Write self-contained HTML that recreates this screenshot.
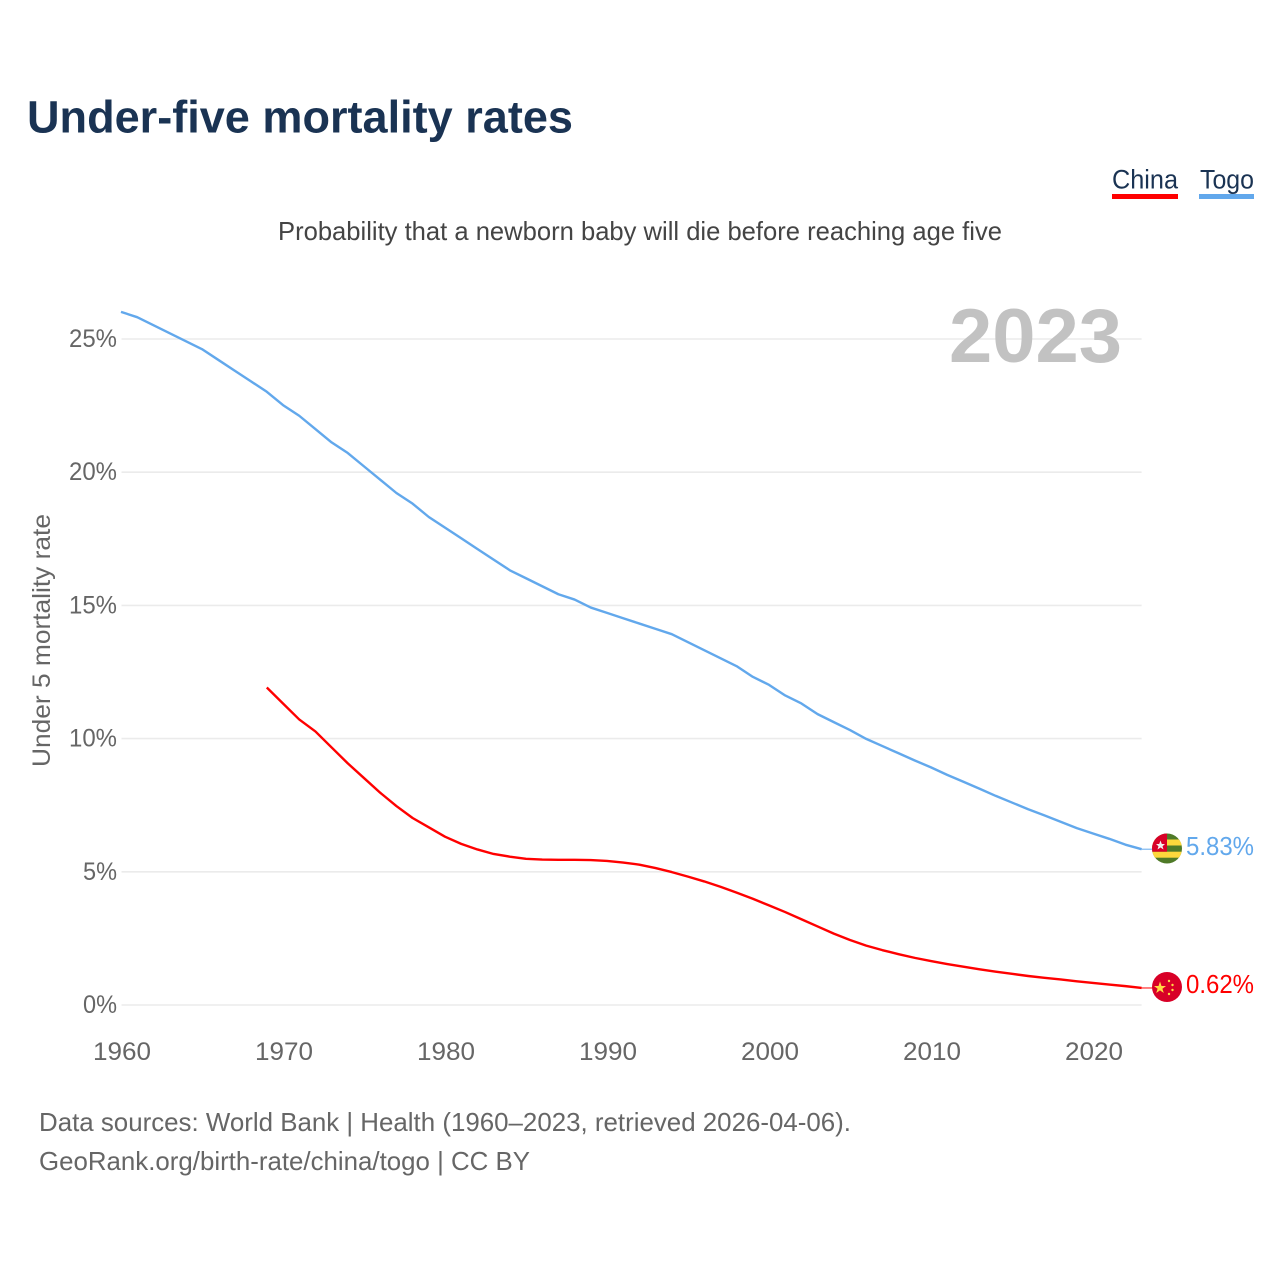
<!DOCTYPE html>
<html lang="en">
<head>
<meta charset="utf-8">
<title>Under-five mortality rates</title>
<style>
html,body{margin:0;padding:0;background:#fff;width:1280px;height:1280px;overflow:hidden}
svg{display:block;font-family:"Liberation Sans",sans-serif}
</style>
</head>
<body>
<svg id="chart" width="1280" height="1280" viewBox="0 0 1280 1280" xmlns="http://www.w3.org/2000/svg">
  <rect width="1280" height="1280" fill="#fff"/>
  <text x="27" y="132.5" font-size="45" font-weight="700" fill="#1a3353" textLength="546" lengthAdjust="spacingAndGlyphs">Under-five mortality rates</text>
  <g>
    <g>
      <text x="1112" y="188.5" font-size="27" fill="#1a3353" textLength="66" lengthAdjust="spacingAndGlyphs">China</text>
      <rect x="1112" y="194" width="66" height="5" fill="#ff0000"/>
    </g>
    <g>
      <text x="1200" y="188.5" font-size="27" fill="#1a3353" textLength="54" lengthAdjust="spacingAndGlyphs">Togo</text>
      <rect x="1199" y="194" width="55" height="5" fill="#62a8ec"/>
    </g>
  </g>
  <text x="278" y="240" font-size="26" fill="#444" textLength="724" lengthAdjust="spacingAndGlyphs">Probability that a newborn baby will die before reaching age five</text>
  <g id="grid"></g>
  <g id="yticks"></g>
  <g id="xticks"></g>
  <text transform="translate(50,767) rotate(-90)" font-size="25" fill="#666" textLength="253" lengthAdjust="spacingAndGlyphs">Under 5 mortality rate</text>
  <text x="949" y="362" font-size="76" font-weight="700" fill="#c2c2c2" textLength="173" lengthAdjust="spacingAndGlyphs">2023</text>
  <g id="series"></g>

  <defs>
    <clipPath id="flag-clip-togo"><circle cx="1167" cy="848.5" r="15"/></clipPath>
    <clipPath id="flag-clip-china"><circle cx="1167" cy="987" r="15"/></clipPath>
  </defs>
  <g id="flag-togo" clip-path="url(#flag-clip-togo)">
    <rect x="1152" y="833" width="30" height="31" fill="#4f7a28"/>
    <rect x="1152" y="839.5" width="30" height="6" fill="#fdd83c"/>
    <rect x="1152" y="851.7" width="30" height="6" fill="#fdd83c"/>
    <rect x="1152" y="833" width="15" height="18.7" fill="#d80027"/>
    <polygon points="1160.5,840.5 1161.8,844 1165,844 1162.5,846.2 1163.5,849.5 1160.5,847.5 1157.5,849.5 1158.5,846.2 1156,844 1159.2,844" fill="#f0f0f0"/>
  </g>
  <g id="flag-china" clip-path="url(#flag-clip-china)">
    <rect x="1152" y="972" width="30" height="30" fill="#d80027"/>
    <polygon points="1160,981.5 1161.5,986 1166,986 1162.4,988.7 1163.8,993 1160,990.4 1156.2,993 1157.6,988.7 1154,986 1158.5,986" fill="#ffda44"/>
    <circle cx="1169" cy="981" r="1.2" fill="#ffda44"/>
    <circle cx="1172.5" cy="985" r="1.2" fill="#ffda44"/>
    <circle cx="1172.5" cy="990" r="1.2" fill="#ffda44"/>
    <circle cx="1169" cy="994" r="1.2" fill="#ffda44"/>
  </g>
  <text x="1186" y="855" font-size="26" fill="#62a8ec" textLength="68" lengthAdjust="spacingAndGlyphs">5.83%</text>
  <text x="1186" y="993" font-size="26" fill="#ff0000" textLength="68" lengthAdjust="spacingAndGlyphs">0.62%</text>

  <text x="39" y="1131" font-size="26" fill="#666" textLength="812" lengthAdjust="spacingAndGlyphs">Data sources: World Bank | Health (1960–2023, retrieved 2026-04-06).</text>
  <text x="39" y="1170" font-size="26" fill="#666" textLength="491" lengthAdjust="spacingAndGlyphs">GeoRank.org/birth-rate/china/togo | CC BY</text>
</svg>
<script>
const yTickValues = [0, 5, 10, 15, 20, 25];
const xTickValues = [1960, 1970, 1980, 1990, 2000, 2010, 2020];
const togoStartYear = 1960;
const togoValues = [26.0,25.8,25.5,25.2,24.9,24.6,24.2,23.8,23.4,23.0,22.5,22.1,21.6,21.1,20.7,20.2,19.7,19.2,18.8,18.3,17.9,17.5,17.1,16.7,16.3,16.0,15.7,15.4,15.2,14.9,14.7,14.5,14.3,14.1,13.9,13.6,13.3,13.0,12.7,12.3,12.0,11.6,11.3,10.9,10.6,10.3,9.97,9.7,9.43,9.16,8.9,8.62,8.36,8.1,7.83,7.58,7.33,7.1,6.86,6.62,6.42,6.22,6.0,5.83];
const chinaStartYear = 1969;
const chinaValues = [11.9,11.3,10.7,10.25,9.65,9.05,8.5,7.95,7.45,7.0,6.65,6.3,6.03,5.82,5.65,5.55,5.47,5.44,5.43,5.43,5.42,5.39,5.33,5.25,5.12,4.97,4.8,4.62,4.42,4.2,3.97,3.72,3.47,3.2,2.93,2.66,2.42,2.21,2.04,1.89,1.75,1.63,1.52,1.42,1.32,1.23,1.15,1.07,1.0,0.94,0.87,0.81,0.75,0.69,0.62];

const NS = 'http://www.w3.org/2000/svg';
const xScale = year => 121 + (year - 1960) * 16.2;
const yScale = value => 1005 - value * 26.64;
const plotRight = xScale(2023);

function make(tag, attrs, parent) {
  const el = document.createElementNS(NS, tag);
  for (const key in attrs) el.setAttribute(key, attrs[key]);
  parent.appendChild(el);
  return el;
}

const gridGroup = document.getElementById('grid');
const yTickGroup = document.getElementById('yticks');
const xTickGroup = document.getElementById('xticks');
const seriesGroup = document.getElementById('series');

yTickValues.forEach(value => {
  const line = make('line', {x1: 121.5, x2: plotRight, y1: yScale(value), y2: yScale(value), stroke: '#ebebeb', 'stroke-width': 1.6}, gridGroup);
  
  
  const label = make('text', {x: 117, y: yScale(value) + 8, 'text-anchor': 'end', 'font-size': 25, fill: '#666', textLength: value >= 10 ? 48 : 34, lengthAdjust: 'spacingAndGlyphs'}, yTickGroup);
  label.textContent = value + '%';
  
  
});

xTickValues.forEach(year => {
  const label = make('text', {x: xScale(year) + 1, y: 1060, 'text-anchor': 'middle', 'font-size': 25, fill: '#666', textLength: 58, lengthAdjust: 'spacingAndGlyphs'}, xTickGroup);
  label.textContent = year;
  
  
});

function drawSeries(values, startYear, color, name) {
  const points = values.map((v, i) => xScale(startYear + i).toFixed(2) + ',' + (yScale(v) - 0.5).toFixed(2)).join(' ');
  const line = make('polyline', {points: points, fill: 'none', stroke: color, 'stroke-width': 2.4, 'stroke-linejoin': 'round'}, seriesGroup);
  
  
  const lastY = yScale(values[values.length - 1]) - 0.5;
  const connector = make('line', {x1: plotRight, x2: 1153, y1: lastY, y2: lastY, stroke: color, 'stroke-width': 1}, seriesGroup);
  
  
}

drawSeries(togoValues, togoStartYear, '#62a8ec', 'togo');
drawSeries(chinaValues, chinaStartYear, '#ff0000', 'china');
</script>
</body>
</html>
